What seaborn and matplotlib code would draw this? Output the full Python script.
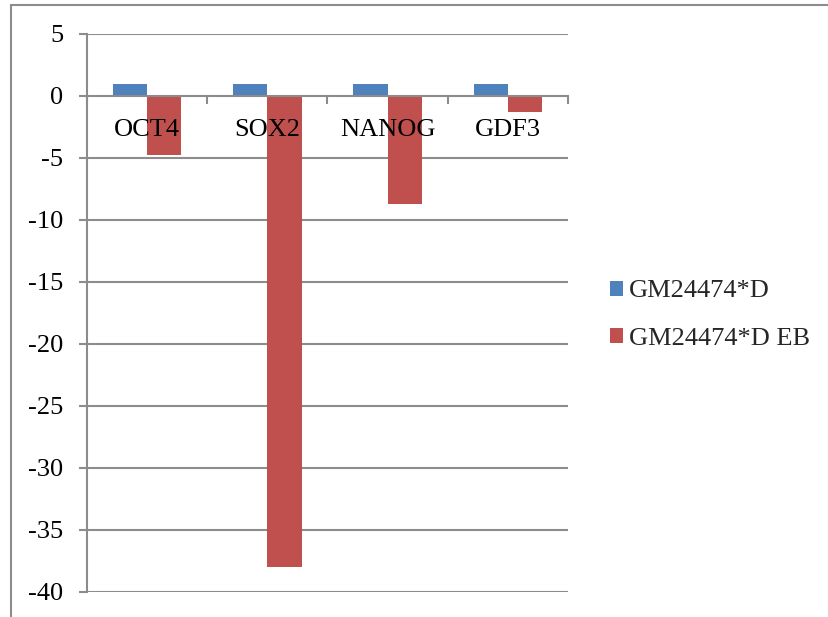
import matplotlib
matplotlib.use("Agg")
import matplotlib.pyplot as plt
from matplotlib.lines import Line2D
from matplotlib.patches import Patch
import seaborn as sns
import pandas as pd

genes = ["OCT4", "SOX2", "NANOG", "GDF3"]
series_names = ["GM24474*D", "GM24474*D EB"]
undiff_values = [1, 1, 1, 1]
eb_values = [-4.75, -38, -8.75, -1.3]
y_ticks = [5, 0, -5, -10, -15, -20, -25, -30, -35, -40]

colors = ["#4F81BD", "#C0504D"]
grid_color = "#8C8C8C"

df = pd.DataFrame({
    "gene": genes * 2,
    "series": [series_names[0]] * len(genes) + [series_names[1]] * len(genes),
    "value": undiff_values + eb_values,
})

sns.set_theme(style="white")
plt.rcParams["font.family"] = ["Liberation Serif", "DejaVu Serif"]

fig = plt.figure(figsize=(8.29, 6.17), dpi=100)
ax = fig.add_axes([87 / 829, 1 - 592 / 617, (568 - 87) / 829, (592 - 34) / 617])
ax.set_axisbelow(False)

sns.barplot(data=df, x="gene", y="value", hue="series", order=genes,
            hue_order=series_names, palette=colors, width=0.57,
            saturation=1, edgecolor="none", linewidth=0, ax=ax, legend=False,
            zorder=2)

ax.set_xlim(-0.5, len(genes) - 0.5)
ax.set_ylim(-40, 5)
ax.set_yticks(y_ticks)
ax.set_yticklabels([str(v) for v in y_ticks])
ax.set_xlabel("")
ax.set_ylabel("")

# horizontal gridlines (the zero line is the category axis)
for v in y_ticks:
    if v != 0:
        ax.axhline(v, color=grid_color, lw=1.5, zorder=1)

for s in ["top", "right"]:
    ax.spines[s].set_visible(False)
ax.spines["left"].set_color(grid_color)
ax.spines["left"].set_linewidth(1.5)
ax.spines["bottom"].set_position(("data", 0))
ax.spines["bottom"].set_color(grid_color)
ax.spines["bottom"].set_linewidth(1.5)

ax.tick_params(axis="y", which="major", left=True, length=6, width=1.5,
               color=grid_color, pad=11, labelsize=19, labelcolor="black")
ax.set_xticks(range(len(genes)))
ax.set_xticklabels(genes)
ax.set_xticks([i - 0.5 for i in range(len(genes) + 1)], minor=True)
ax.tick_params(axis="x", which="major", bottom=True, length=0, pad=16.5,
               labelsize=19, labelcolor="black")
ax.tick_params(axis="x", which="minor", bottom=True, length=6, width=1.5,
               color=grid_color)
ax.xaxis.set_zorder(5)

handles = [Patch(facecolor=c, edgecolor="none") for c in colors]
fig.legend(handles, series_names, loc="center left",
           bbox_to_anchor=(597 / 829, 1 - 315 / 617), frameon=False,
           fontsize=19, handlelength=0.5, handleheight=0.5,
           handletextpad=0.2, labelspacing=0.95, borderpad=0)

# chart frame edges
fig.add_artist(Line2D([11 / 829, 1], [1 - 5 / 617, 1 - 5 / 617],
                      transform=fig.transFigure, color=grid_color, lw=1.5))
fig.add_artist(Line2D([11 / 829, 11 / 829], [0, 1 - 5 / 617],
                      transform=fig.transFigure, color=grid_color, lw=1.5))

fig.savefig("out.png", dpi=100)
